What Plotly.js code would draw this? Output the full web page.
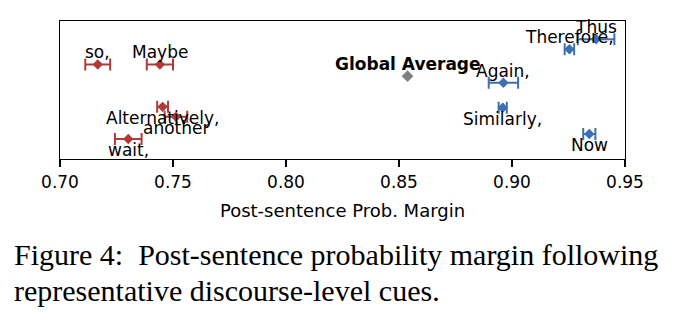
<!DOCTYPE html>
<html>
<head>
<meta charset="utf-8">
<script src="https://cdn.plot.ly/plotly-3.0.1.min.js"></script>
<style>html,body{margin:0;padding:0;background:#fff;}#chart{width:686px;height:325px;}</style>
</head>
<body>
<div id="chart"></div>
<script>
// Red group (lower margin cues)
const redCues = ["so,", "Maybe", "Alternatively,", "another", "wait,"];
const redMean = [0.7167, 0.7442, 0.7454, 0.7513, 0.7302];
const redErr  = [0.0055, 0.0058, 0.0024, 0.0050, 0.0059];
const redY    = [0.685, 0.685, 0.378, 0.306, 0.145];
const redLabelPos = ["above", "above", "below", "below", "below"];

// Blue group (higher margin cues)
const blueCues = ["Thus", "Therefore,", "Again,", "Similarly,", "Now"];
const blueMean = [0.9372, 0.9254, 0.8962, 0.8959, 0.9342];
const blueErr  = [0.0081, 0.0021, 0.0065, 0.0018, 0.0027];
const blueY    = [0.868, 0.795, 0.552, 0.371, 0.181];
const blueLabelPos = ["above", "above", "above", "below", "below"];

// Global average
const globalLabel = ["Global Average"];
const globalMean = [0.8538];
const globalY = [0.600];

// Axis ticks
const xTicks = [0.70, 0.75, 0.80, 0.85, 0.90, 0.95];
const xTickText = ["0.70", "0.75", "0.80", "0.85", "0.90", "0.95"];

const captionLines = [
  "Figure 4:  Post-sentence probability margin following",
  "representative discourse-level cues."
];

const RED = "#b03a3a", BLUE = "#3d70b2", GREY = "#808080";
const FONT = "DejaVu Sans, sans-serif";
const SERIF = "Liberation Serif, Times New Roman, serif";

function grp(x, y, e, color) {
  return {
    type: "scatter", mode: "markers", x: x, y: y,
    marker: {symbol: "diamond", size: 8, color: color},
    error_x: {type: "data", array: e, visible: true, color: color, thickness: 2, width: 6},
    hoverinfo: "skip", showlegend: false, cliponaxis: false
  };
}

const traces = [
  grp(redMean, redY, redErr, RED),
  grp(blueMean, blueY, blueErr, BLUE),
  {type: "scatter", mode: "markers", x: globalMean, y: globalY,
   marker: {symbol: "diamond", size: 9, color: GREY}, showlegend: false, hoverinfo: "skip"}
];

const annotations = [];
function addLabels(names, xs, ys, pos, bold) {
  names.forEach((n, i) => {
    annotations.push({
      x: xs[i], y: ys[i], xref: "x", yref: "y",
      text: bold ? "<b>" + n + "</b>" : n,
      showarrow: false, xanchor: "center", yanchor: "middle",
      yshift: pos[i] === "above" ? 12 : -11,
      font: {family: FONT, size: 17, color: "#000"}
    });
  });
}
addLabels(redCues, redMean, redY, redLabelPos, false);
addLabels(blueCues, blueMean, blueY, blueLabelPos, false);
addLabels(globalLabel, globalMean, globalY, ["above"], true);

const captionY = [-0.694, -0.950];
captionLines.forEach((t, i) => {
  annotations.push({
    xref: "paper", yref: "paper", x: -0.085, y: captionY[i],
    xanchor: "left", yanchor: "middle", align: "left", showarrow: false,
    text: t,
    font: {family: SERIF, size: 30, color: "#000"}
  });
});

const layout = {
  width: 686, height: 325,
  margin: {l: 60, r: 61, t: 21, b: 166},
  paper_bgcolor: "#fff", plot_bgcolor: "#fff",
  font: {family: FONT, size: 17, color: "#000"},
  xaxis: {
    range: [0.70, 0.95], tickvals: xTicks, ticktext: xTickText,
    ticks: "outside", ticklen: 7, tickwidth: 1.3, tickcolor: "#000",
    showline: true, linecolor: "#000", linewidth: 1.3, mirror: true,
    showgrid: false, zeroline: false,
    tickfont: {family: FONT, size: 17},
    title: {text: "Post-sentence Prob. Margin", font: {family: FONT, size: 18}, standoff: 13}
  },
  yaxis: {
    range: [0, 1], showticklabels: false, ticks: "",
    showline: true, linecolor: "#000", linewidth: 1.3, mirror: true,
    showgrid: false, zeroline: false
  },
  annotations: annotations
};

Plotly.newPlot("chart", traces, layout, {displayModeBar: false, staticPlot: true});
</script>
</body>
</html>
